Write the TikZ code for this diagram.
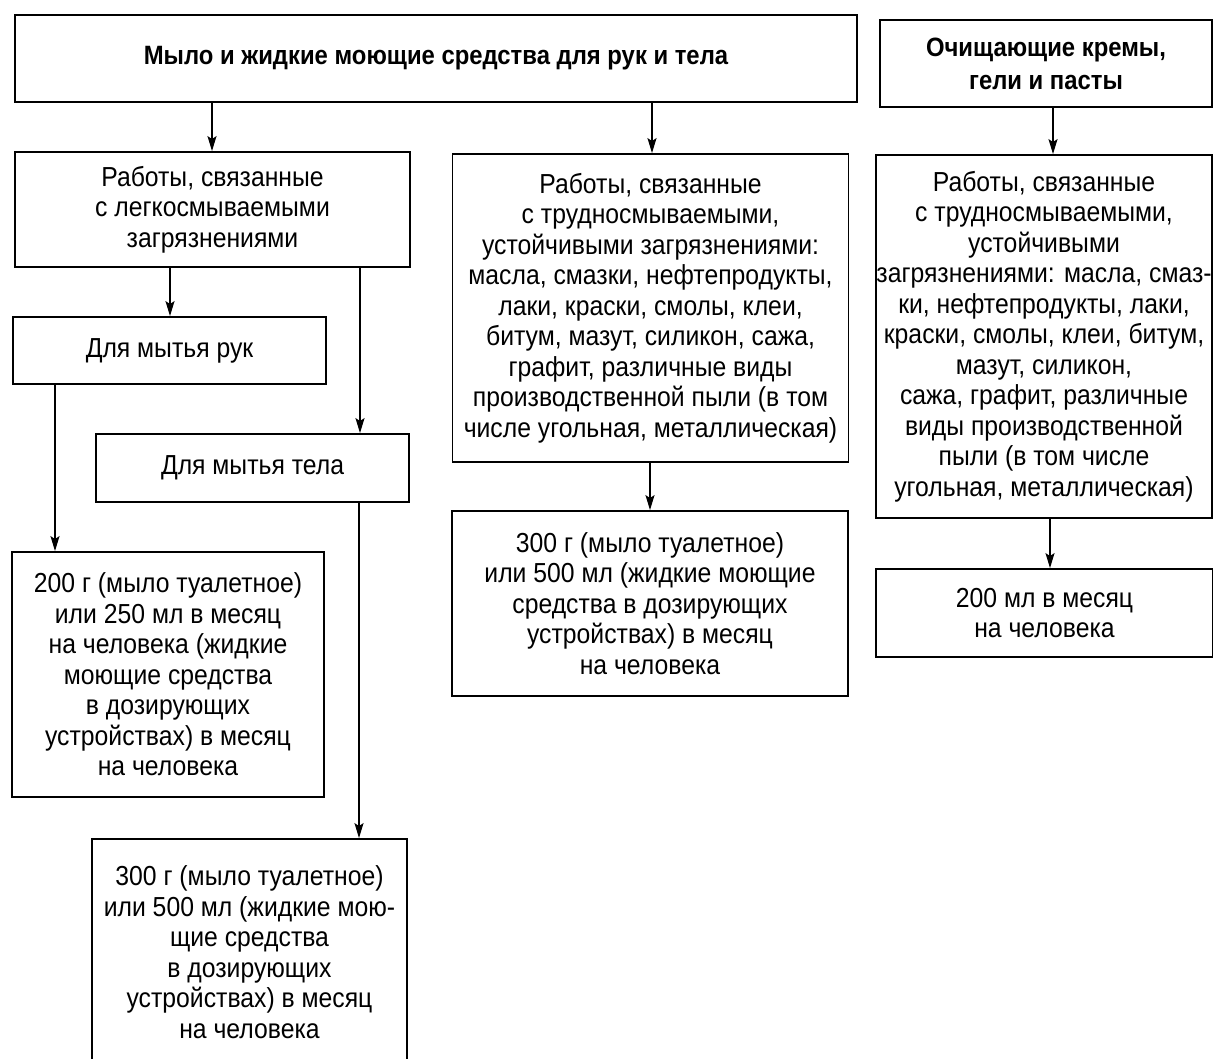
\documentclass[tikz,border=0pt]{standalone}
\usepackage{fontspec}
\setmainfont{Liberation Sans}[FakeStretch=0.9]
\usetikzlibrary{arrows.meta}
\begin{document}
\begin{tikzpicture}[x=1pt,y=-1pt,
  box/.style={draw,line width=1.8pt,inner sep=0pt,align=center,
    font=\fontsize{27.5}{30.5}\selectfont},
  hbox/.style={box,font=\fontsize{26.5}{33}\selectfont\bfseries},
  arr/.style={line width=1.5pt,-{Stealth[length=15pt,width=9pt,inset=3pt]}}]
\useasboundingbox (0,0) rectangle (1213,1059);
\fill[white] (0,0) rectangle (1213,1059);
% header boxes
\node[hbox,minimum width=842pt,minimum height=87pt] (top) at (436,58.5)
  {Мыло и жидкие моющие средства для рук и тела};
\node[hbox,minimum width=332pt,minimum height=87pt] (topR) at (1046,63.5)
  {Очищающие кремы,\\гели и пасты};
% second level
\node[box,minimum width=395pt,minimum height=115pt] (A) at (212.5,209.5)
  {Работы, связанные\\с легкосмываемыми\\загрязнениями};
\node[box,minimum width=396pt,minimum height=308pt] (B) at (650.5,308)
  {Работы, связанные\\с трудносмываемыми,\\устойчивыми загрязнениями:\\масла, смазки, нефтепродукты,\\лаки, краски, смолы, клеи,\\битум, мазут, силикон, сажа,\\графит, различные виды\\производственной пыли (в том\\числе угольная, металлическая)};
\node[box,minimum width=336pt,minimum height=363pt] (C) at (1044,336.5)
  {Работы, связанные\\с трудносмываемыми,\\устойчивыми\\загрязнениями: масла, смаз-\\ки, нефтепродукты, лаки,\\краски, смолы, клеи, битум,\\мазут, силикон,\\сажа, графит, различные\\виды производственной\\пыли (в том числе\\угольная, металлическая)};
% third level
\node[box,minimum width=313pt,minimum height=67pt] (D) at (169.5,350.5)
  {Для мытья рук};
\node[box,minimum width=313pt,minimum height=68pt] (E) at (252.5,468)
  {Для мытья тела};
\node[box,minimum width=396pt,minimum height=185pt] (H) at (650,603.5)
  {300 г (мыло туалетное)\\или 500 мл (жидкие моющие\\средства в дозирующих\\устройствах) в месяц\\на человека};
\node[box,minimum width=337pt,minimum height=88pt] (I) at (1044.5,613)
  {200 мл в месяц\\на человека};
% fourth level
\node[box,minimum width=312pt,minimum height=245pt] (F) at (168,674.5)
  {200 г (мыло туалетное)\\или 250 мл в месяц\\на человека (жидкие\\моющие средства\\в дозирующих\\устройствах) в месяц\\на человека};
\node[box,minimum width=315pt,minimum height=226pt] (G) at (249.5,952)
  {300 г (мыло туалетное)\\или 500 мл (жидкие мою-\\щие средства\\в дозирующих\\устройствах) в месяц\\на человека};
% connectors
\draw[arr] (top.south -| 212,0) -- (A.north -| 212,0);
\draw[arr] (top.south -| 652,0) -- (B.north -| 652,0);
\draw[arr] (topR.south -| 1053,0) -- (C.north -| 1053,0);
\draw[arr] (A.south -| 170,0) -- (D.north -| 170,0);
\draw[arr] (A.south -| 360,0) -- (E.north -| 360,0);
\draw[arr] (D.south -| 55,0) -- (F.north -| 55,0);
\draw[arr] (E.south -| 359,0) -- (G.north -| 359,0);
\draw[arr] (B.south -| 650,0) -- (H.north -| 650,0);
\draw[arr] (C.south -| 1050,0) -- (I.north -| 1050,0);
\end{tikzpicture}
\end{document}
